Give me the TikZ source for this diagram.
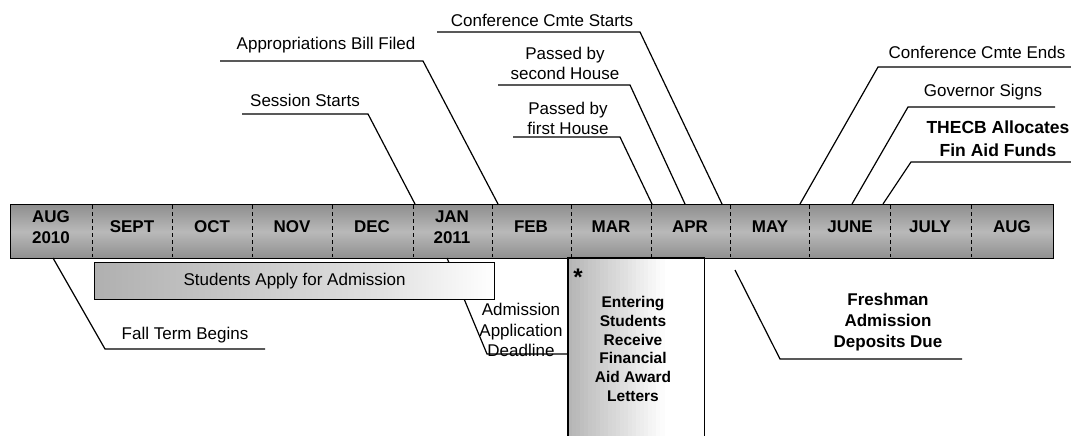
\documentclass[tikz,border=0pt]{standalone}
\usepackage{fontspec}
\setmainfont{Liberation Sans}
\usetikzlibrary{calc}
\pgfdeclarehorizontalshading{applyshade}{100bp}{color(0bp)=(gray!62); color(25bp)=(gray!62); color(60bp)=(gray!25); color(75bp)=(white); color(100bp)=(white)}
\begin{document}
\begin{tikzpicture}[x=1pt,y=-1pt,
  conn/.style={line width=1.2pt, line join=miter},
  lbl/.style={font=\fontsize{17}{20}\selectfont, inner sep=0pt, align=center},
  blbl/.style={font=\fontsize{17}{21}\selectfont\bfseries, inner sep=0pt, align=center},
  month/.style={font=\fontsize{17}{20.5}\selectfont\bfseries, inner sep=0pt, align=center},
  divider/.style={dash pattern=on 4pt off 3pt, line width=0.9pt},
  boxline/.style={line width=1.3pt}]
\useasboundingbox (0,0) rectangle (1071,436);

% ---- timeline bar ----
\node[draw, boxline, top color=gray!88, bottom color=gray!88, middle color=gray!55,
      minimum width=1043pt, minimum height=54pt, inner sep=0pt, anchor=north west] (bar) at (9.5,204) {};
\foreach \x in {92,172,252,332,413,492,571,651,730,809,890,971}
  \draw[divider] (\x,205) -- (\x,257);

\node[month] (m1)  at (51,227)  {AUG\\2010};
\node[month] (m2)  at (132,227) {SEPT};
\node[month] (m3)  at (212,227) {OCT};
\node[month] (m4)  at (292,227) {NOV};
\node[month] (m5)  at (372,227) {DEC};
\node[month] (m6)  at (452,227) {JAN\\2011};
\node[month] (m7)  at (531,227) {FEB};
\node[month] (m8)  at (611,227) {MAR};
\node[month] (m9)  at (690,227) {APR};
\node[month] (m10) at (770,227) {MAY};
\node[month] (m11) at (850,227) {JUNE};
\node[month] (m12) at (930,227) {JULY};
\node[month] (m13) at (1012,227) {AUG};

% ---- label coordinates ----
\coordinate (ssA) at (242,114);  \coordinate (ssB) at (368,114);  \coordinate (ssC) at (415,204);
\coordinate (abA) at (220,61);   \coordinate (abB) at (423,61);   \coordinate (abC) at (498,204);
\coordinate (csA) at (437,32);   \coordinate (csB) at (640,32);   \coordinate (csC) at (722,204);
\coordinate (p2A) at (498,85);   \coordinate (p2B) at (630,85);   \coordinate (p2C) at (685,204);
\coordinate (p1A) at (513,137);  \coordinate (p1B) at (620,137);  \coordinate (p1C) at (652,204);
\coordinate (ceA) at (1071,67);  \coordinate (ceB) at (878,67);   \coordinate (ceC) at (800,204);
\coordinate (gsA) at (1055,107); \coordinate (gsB) at (908,107);  \coordinate (gsC) at (852,204);
\coordinate (thA) at (1071,162); \coordinate (thB) at (911,162);  \coordinate (thC) at (883,204);
\coordinate (ftA) at (53,258);   \coordinate (ftB) at (105,349);  \coordinate (ftC) at (265,349);
\coordinate (adA) at (447,258);  \coordinate (adB) at (487,354);  \coordinate (adC) at (567,354);
\coordinate (frA) at (735,270);  \coordinate (frB) at (780,359);  \coordinate (frC) at (962,359);

% ---- connectors ----
\draw[conn] (ssA) -- (ssB) -- (ssC);
\draw[conn] (abA) -- (abB) -- (abC);
\draw[conn] (csA) -- (csB) -- (csC);
\draw[conn] (p2A) -- (p2B) -- (p2C);
\draw[conn] (p1A) -- (p1B) -- (p1C);
\draw[conn] (ceA) -- (ceB) -- (ceC);
\draw[conn] (gsA) -- (gsB) -- (gsC);
\draw[conn] (thA) -- (thB) -- (thC);
\draw[conn] (ftA) -- (ftB) -- (ftC);
\draw[conn] (adA) -- (adB) -- (adC);
\draw[conn] (frA) -- (frB) -- (frC);

% ---- boxes ----
\node[draw, boxline, shading=applyshade, minimum width=400pt, minimum height=37pt,
      inner sep=0pt, anchor=north west, font=\fontsize{17}{20}\selectfont] (apply) at (94,262)
      {Students Apply for Admission};

\node[fill=white, minimum width=136pt, minimum height=178pt, inner sep=0pt, anchor=north west]
      (aid) at (568,258) {};
\foreach \i in {0,...,23} {
  \pgfmathtruncatemacro{\v}{58*(1-\i/24)}
  \fill[gray!\v] (568+4*\i,258) rectangle (568+4*\i+4.6,436);
}
\draw[boxline] (aid.south west) -- (aid.north west) -- (aid.north east) -- (aid.south east);
\node[font=\fontsize{24}{24}\selectfont\bfseries, inner sep=0pt] (star) at (578,277) {*};
\node[font=\fontsize{15.5}{18.7}\selectfont\bfseries, inner sep=0pt, align=center] (aidtxt) at (633,349)
      {Entering\\Students\\Receive\\Financial\\Aid Award\\Letters};

% ---- label texts ----
\node[lbl] (ss) at (305,100) {Session Starts};
\node[lbl] (ab) at (326,45)  {Appropriations Bill Filed};
\node[lbl] (cs) at (542,20)  {Conference Cmte Starts};
\node[lbl] (p2) at (565,63)  {Passed by\\second House};
\node[lbl] (p1) at (568,118) {Passed by\\first House};
\node[lbl] (ce) at (977,52)  {Conference Cmte Ends};
\node[lbl] (gs) at (983,92)  {Governor Signs};
\node[blbl, font=\fontsize{17.5}{23}\selectfont\bfseries] (th) at (998,139) {THECB Allocates\\Fin Aid Funds};
\node[lbl] (ft) at (185,335) {Fall Term Begins};
\node[lbl, font=\fontsize{17}{20.5}\selectfont] (ad) at (521,330) {Admission\\Application\\Deadline};
\node[blbl] (fr) at (888,322) {Freshman\\Admission\\Deposits Due};
\end{tikzpicture}
\end{document}
